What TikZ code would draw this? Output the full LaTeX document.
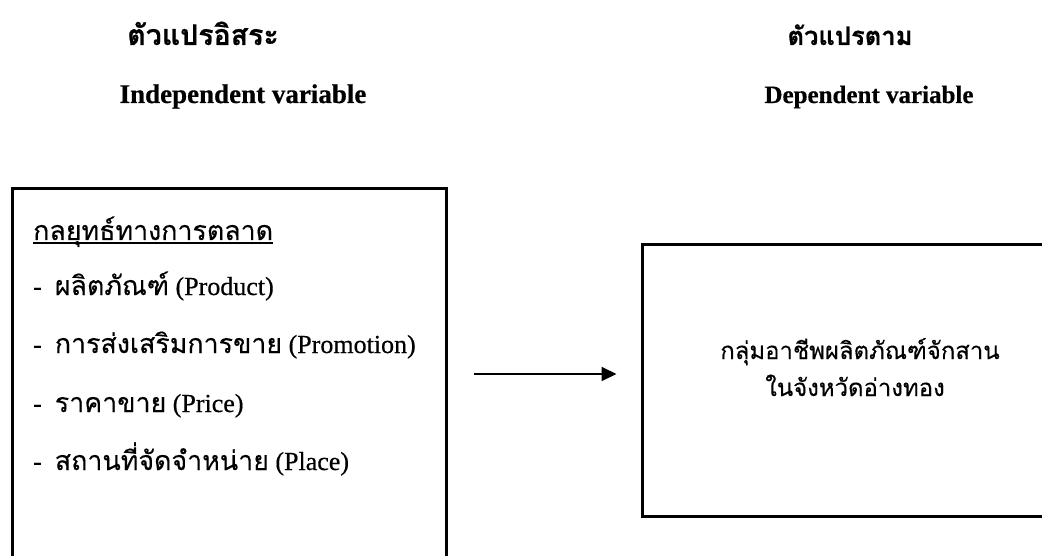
\documentclass[tikz,border=0pt]{standalone}
\usepackage{fontspec}
\setmainfont{Liberation Serif}[FakeBold=0.5]
\newfontfamily\thaifont[Script=Thai,FakeBold=0.3,Scale=1.03]{Loma}
\newfontfamily\thaititle[Script=Thai,FakeBold=0.6]{Loma Bold}
\usetikzlibrary{arrows.meta}

\tikzset{
  frame/.style={draw, line width=3pt, inner sep=0pt},
  title/.style={font=\fontsize{27}{30}\selectfont\bfseries, anchor=base, inner sep=0pt},
  item/.style={font=\fontsize{26}{30}\selectfont, anchor=base west, inner sep=0pt},
  flow/.style={line width=2pt, -{Triangle[length=15pt,width=14pt]}}
}
\newcommand{\thtext}[1]{{\thaifont #1}}
\newcommand{\thhead}[1]{{\thaititle #1}}

\begin{document}
\begin{tikzpicture}[x=1pt,y=-1pt]
  \useasboundingbox (0,0) rectangle (1042,556);
  \clip (0,0) rectangle (1042,556);

  % column titles
  \node[title, font=\fontsize{28.5}{30}\selectfont] (t1) at (203,45) {\thhead{ตัวแปรอิสระ}};
  \node[title] (s1) at (243,103) {\bfseries Independent variable};
  \node[title, font=\fontsize{25.5}{30}\selectfont] (t2) at (850,45) {\thhead{ตัวแปรตาม}};
  \node[title, font=\fontsize{25}{30}\selectfont\bfseries] (s2) at (869,103) {Dependent variable};

  % boxes
  \node[frame, minimum width=434pt, minimum height=370pt] (L) at (229,374) {};
  \node[frame, minimum width=420pt, minimum height=271pt] (R) at (852,380.5) {};

  % independent variables
  \node[item] (h) at (33,240) {\thtext{กลยุทธ์ทางการตลาด}};
  \draw[line width=1.4pt] ([yshift=-3pt]h.base west) -- ([yshift=-3pt]h.base east);
  \node[item] (p1) at (33,295) {-\ \ \thtext{ผลิตภัณฑ์} (Product)};
  \node[item] (p2) at (33,353) {-\ \ \thtext{การส่งเสริมการขาย} (Promotion)};
  \node[item] (p3) at (33,412) {-\ \ \thtext{ราคาขาย} (Price)};
  \node[item] (p4) at (33,470) {-\ \ \thtext{สถานที่จัดจำหน่าย} (Place)};

  % dependent variable
  \node[item, anchor=base, font=\fontsize{23.2}{30}\selectfont] (r1) at (860,359) {\thtext{กลุ่มอาชีพผลิตภัณฑ์จักสาน}};
  \node[item, anchor=base, font=\fontsize{23.2}{30}\selectfont] (r2) at (855,396) {\thtext{ในจังหวัดอ่างทอง}};

  % relation
  \draw[flow] ([xshift=26pt]L.east) -- ([xshift=-24pt]L.east -| R.west);
\end{tikzpicture}
\end{document}
